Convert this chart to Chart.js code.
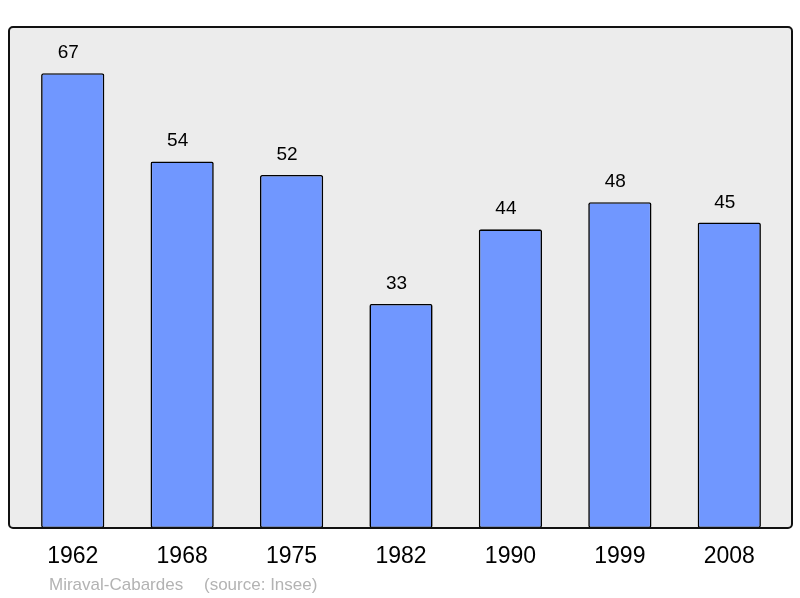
<!DOCTYPE html>
<html>
<head>
<meta charset="utf-8">
<script src="https://cdn.jsdelivr.net/npm/chart.js@4/dist/chart.umd.min.js"></script>
<style>
html,body{margin:0;padding:0;background:#fff;}
#wrap{width:800px;height:598px;position:relative;}
</style>
</head>
<body>
<div id="wrap"><canvas id="c" width="800" height="598"></canvas></div>
<script>
const years = ["1962","1968","1975","1982","1990","1999","2008"];
const population = [67,54,52,33,44,48,45];
const placeName = "Miraval-Cabardes";
const sourceText = "(source: Insee)";

const FONT = "'Liberation Sans', Arial, sans-serif";

function roundRect(ctx,x,y,w,h,r){
  ctx.beginPath();
  ctx.moveTo(x+r,y);
  ctx.lineTo(x+w-r,y);
  ctx.arcTo(x+w,y,x+w,y+r,r);
  ctx.lineTo(x+w,y+h-r);
  ctx.arcTo(x+w,y+h,x+w-r,y+h,r);
  ctx.lineTo(x+r,y+h);
  ctx.arcTo(x,y+h,x,y+h-r,r);
  ctx.lineTo(x,y+r);
  ctx.arcTo(x,y,x+r,y,r);
  ctx.closePath();
}

const boxPlugin = {
  id:'box',
  beforeDatasetsDraw(chart){
    const a = chart.chartArea, ctx = chart.ctx;
    ctx.save();
    roundRect(ctx, a.left-9, a.top, (a.right+8)-(a.left-9), a.bottom-a.top, 4);
    ctx.fillStyle = '#ececec';
    ctx.fill();
    ctx.restore();
  },
  afterDatasetsDraw(chart){
    const a = chart.chartArea, ctx = chart.ctx;
    ctx.save();
    roundRect(ctx, a.left-9, a.top, (a.right+8)-(a.left-9), a.bottom-a.top, 4);
    ctx.lineWidth = 2;
    ctx.strokeStyle = '#111';
    ctx.stroke();
    // value labels
    const meta = chart.getDatasetMeta(0);
    ctx.fillStyle = '#000';
    ctx.font = "19px " + FONT;
    ctx.textAlign = 'center';
    ctx.textBaseline = 'alphabetic';
    meta.data.forEach((bar,i)=>{
      ctx.fillText(String(population[i]), bar.x - 4.5, bar.y - 15);
    });
    // footer
    ctx.fillStyle = '#b3b3b3';
    ctx.font = "17px " + FONT;
    ctx.textAlign = 'left';
    ctx.fillText(placeName, 49, 590);
    ctx.fillText(sourceText, 204, 590);
    ctx.restore();
  }
};

new Chart(document.getElementById('c'), {
  type:'bar',
  data:{
    labels: years,
    datasets:[{
      data: population,
      backgroundColor:'#7097ff',
      borderColor:'#000',
      borderWidth:1.6,
      borderRadius:2,
      borderSkipped:false,
      barPercentage:0.578,
      categoryPercentage:1.0
    }]
  },
  options:{
    responsive:false,
    animation:false,
    devicePixelRatio:1,
    layout:{padding:{left:18,right:16,top:27,bottom:0}},
    plugins:{legend:{display:false},tooltip:{enabled:false}},
    scales:{
      x:{
        grid:{display:false,drawTicks:false},
        border:{display:false},
        ticks:{color:'#000',font:{size:23,family:FONT},padding:15,maxRotation:0},
        afterFit(s){ s.height = 70; }
      },
      y:{
        display:false,
        min:0,
        max:73.8
      }
    }
  },
  plugins:[boxPlugin]
});
</script>
</body>
</html>
